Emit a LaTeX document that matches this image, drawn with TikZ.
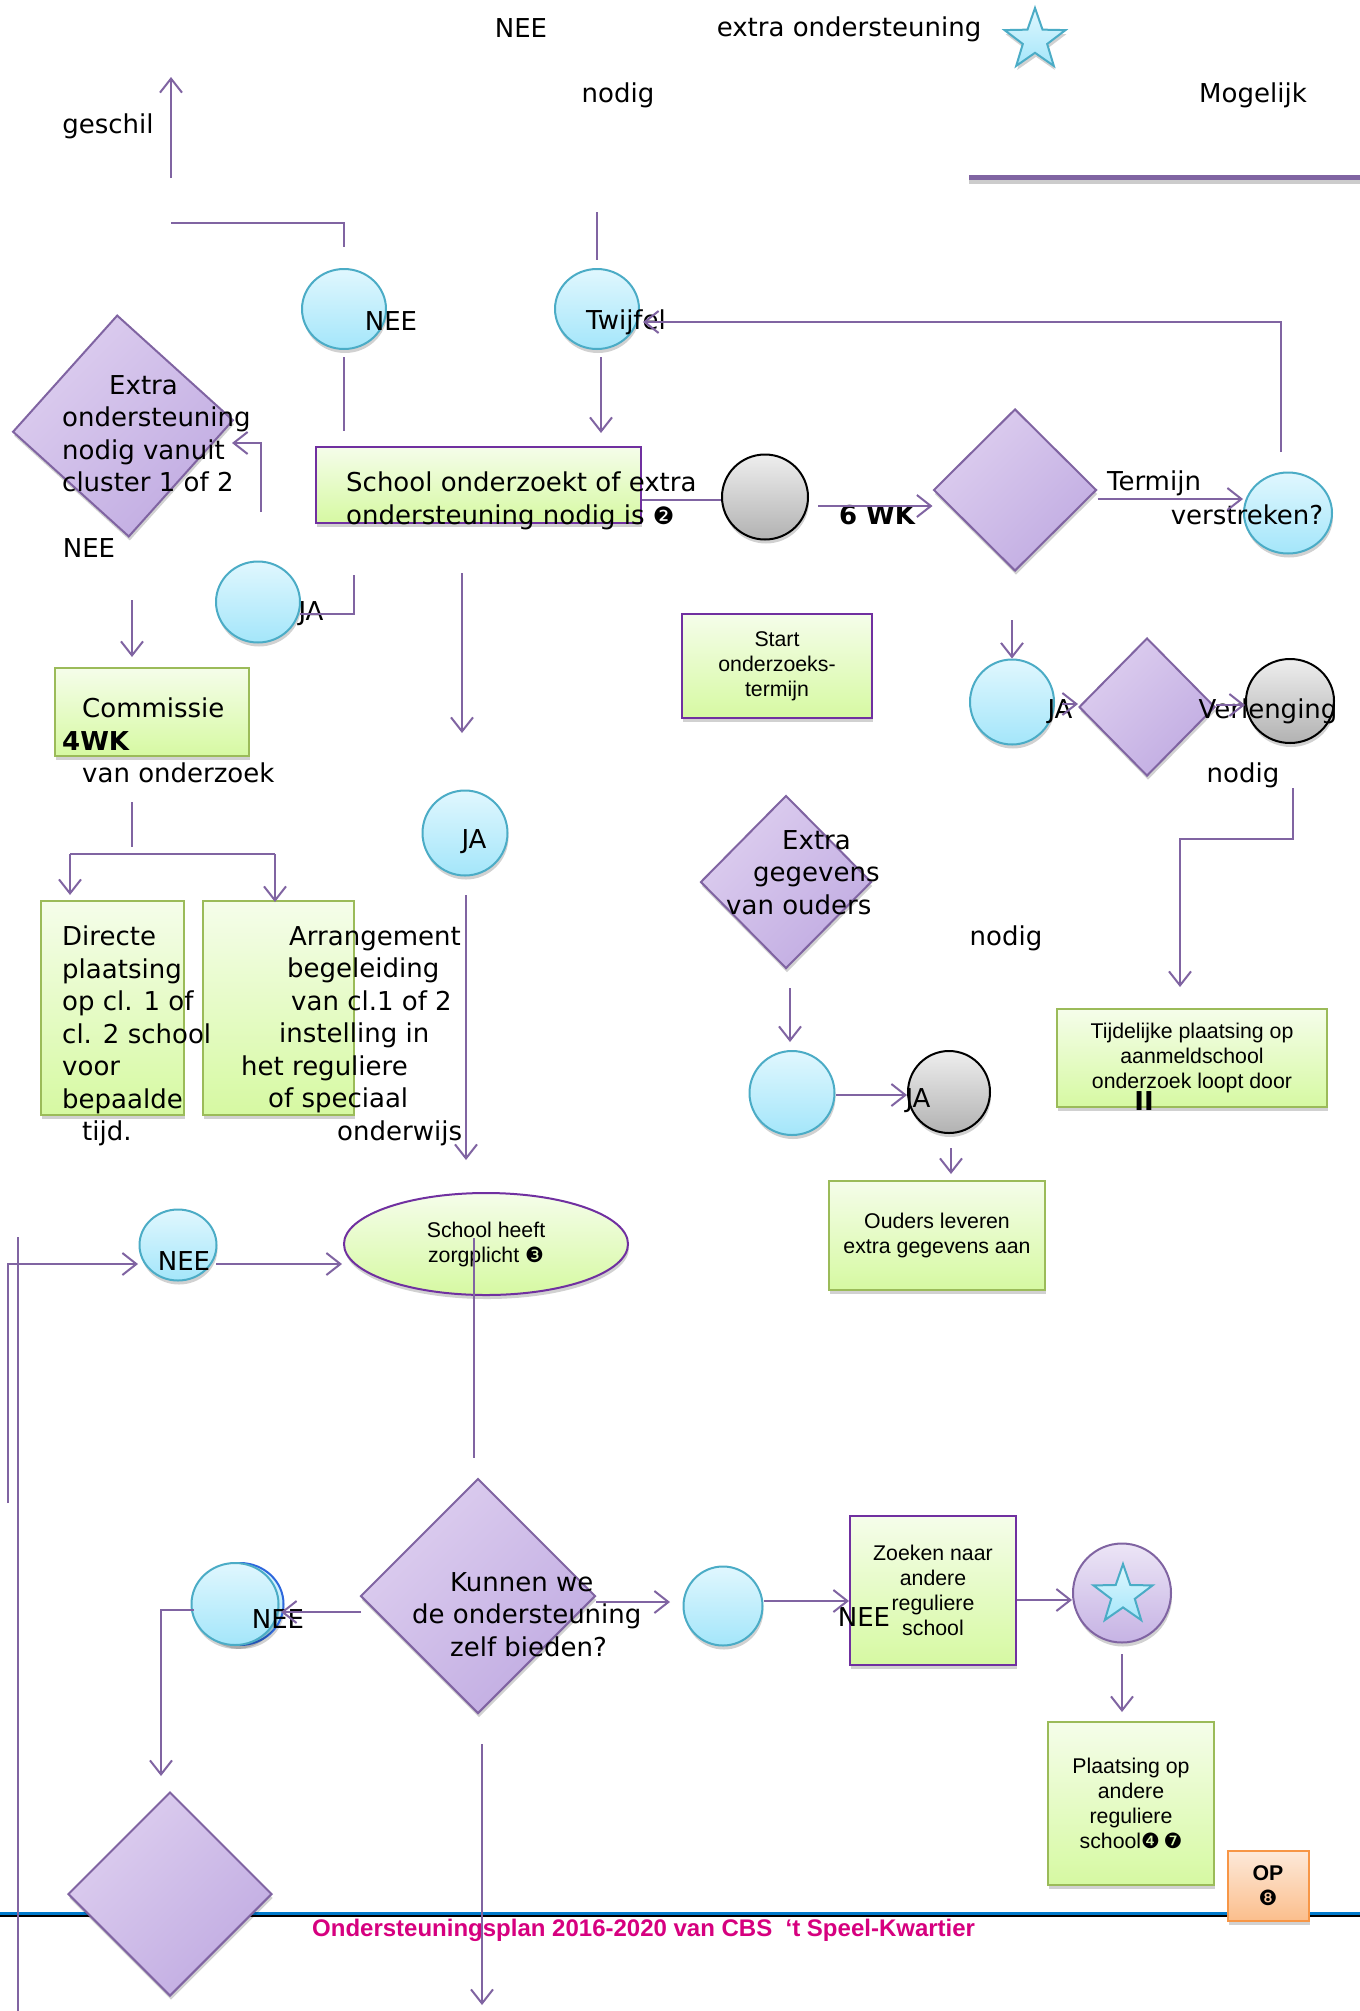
\documentclass[tikz,border=0pt]{standalone}
\usepackage{fontspec}
\setmainfont{DejaVu Sans}
\newfontfamily\arial{Liberation Sans}
\newfontfamily\dejavu{DejaVu Sans}
\usetikzlibrary{shapes.geometric,arrows.meta,shadows}

\definecolor{paars}{RGB}{128,100,162}
\definecolor{paarsrand}{RGB}{112,48,160}
\definecolor{bolrand}{RGB}{75,172,198}
\definecolor{boltop}{RGB}{224,247,254}
\definecolor{bolbodem}{RGB}{164,230,250}
\definecolor{grijstop}{RGB}{238,238,238}
\definecolor{grijsbodem}{RGB}{178,178,178}
\definecolor{ruitlicht}{RGB}{221,206,239}
\definecolor{ruitdonker}{RGB}{193,172,226}
\definecolor{stertop}{RGB}{236,229,246}
\definecolor{sterbodem}{RGB}{198,179,228}
\definecolor{groentop}{RGB}{245,253,234}
\definecolor{groenbodem}{RGB}{214,249,162}
\definecolor{groenrand}{RGB}{155,187,89}
\definecolor{oranjetop}{RGB}{253,233,217}
\definecolor{oranjebodem}{RGB}{251,190,140}
\definecolor{oranjerand}{RGB}{247,150,70}
\definecolor{voetblauw}{RGB}{0,122,204}
\definecolor{voettekst}{RGB}{214,0,127}

\newcommand{\nummer}[2][21]{{\dejavu\fontsize{#1}{#1}\selectfont #2}}

\tikzset{
  lijn/.style={draw=paars, line width=2pt},
  pijl/.style={lijn, -{Straight Barb[length=14pt,width=22pt]}},
  schaduw/.style={drop shadow={shadow xshift=1pt, shadow yshift=-4pt, opacity=0.18, fill=black}},
  maat/.style 2 args={minimum width=#1pt, minimum height=#2pt},
  bol/.style={ellipse, draw=bolrand, line width=2pt, top color=boltop, bottom color=bolbodem, inner sep=0pt, schaduw},
  grijsbol/.style={ellipse, draw=black, line width=2pt, top color=grijstop, bottom color=grijsbodem, inner sep=0pt, schaduw},
  ruit/.style={diamond, draw=paars, line width=2pt, top color=ruitlicht, bottom color=ruitdonker, shading angle=45, inner sep=0pt, schaduw},
  kader/.style={rectangle, draw=groenrand, line width=2pt, top color=groentop, bottom color=groenbodem, inner sep=0pt, schaduw, font=\arial\fontsize{21.3}{25}\selectfont, align=center},
  paarskader/.style={kader, draw=paarsrand},
  tekst/.style={inner sep=0pt, font=\fontsize{26}{32.5}\selectfont},
  blok/.style={tekst, anchor=north west, align=left},
}

\begin{document}
\begin{tikzpicture}[x=1pt,y=-1pt]
\useasboundingbox (0,0) rectangle (1360,2011);
\fill[white] (0,0) rectangle (1360,2011);

% voetregel
\draw[black, line width=2pt] (0,1916) -- (1360,1916);
\draw[voetblauw, line width=3pt] (0,1913) -- (1360,1913);
\node[anchor=base west, inner sep=0pt, text=voettekst, font=\arial\bfseries\fontsize{24}{28}\selectfont] (voet) at (312,1936) {Ondersteuningsplan 2016-2020 van CBS\ \ ‘t Speel-Kwartier};

% balk rechtsboven
\draw[black!20, line width=5pt] (969,181) -- (1360,181);
\draw[paars, line width=5pt] (969,177) -- (1360,177);

% vormen
\node[star, star points=5, star point ratio=2.5, minimum size=64pt, inner sep=0pt, draw=bolrand, line width=2pt, top color=boltop, bottom color=bolbodem, schaduw] (sterTop) at (1035,40) {};
\node[bol, maat={84}{80}] (neeBol) at (344,309) {};
\node[bol, maat={84}{80}] (twijfelBol) at (597,309) {};
\node[ruit, maat={221}{222}, rotate=3] (ruitCluster) at (123,426) {};
\node[paarskader, maat={325}{76}] (school) at (478.5,485) {};
\node[bol, maat={84}{81}] (jaBolLinks) at (258,602) {};
\node[grijsbol, maat={86}{85}] (grijsStart) at (765,497) {};
\node[ruit, maat={163}{162}] (ruitTermijn) at (1015,490) {};
\node[bol, maat={88}{81}] (verstreken) at (1288,513) {};
\node[paarskader, maat={190}{104}] (start) at (777,666) {Start\\onderzoeks-\\termijn};
\node[bol, maat={84}{85}] (jaBolRechts) at (1012,702) {};
\node[ruit, maat={136}{138}] (ruitVerlenging) at (1147,707) {};
\node[grijsbol, maat={88}{84}] (grijsVerlenging) at (1290,701) {};
\node[kader, maat={194}{88}] (commissie) at (152,712) {};
\node[bol, maat={85}{85}] (jaBolMidden) at (465,833) {};
\node[ruit, maat={171}{173}] (ruitOuders) at (786,882) {};
\node[kader, maat={143}{214}] (directe) at (112.5,1008) {};
\node[kader, maat={151}{214}] (arrangement) at (278.5,1008) {};
\node[kader, maat={270}{98}] (tijdelijk) at (1192,1058) {Tijdelijke plaatsing op\\aanmeldschool\\onderzoek loopt door};
\node[bol, maat={85}{84}] (ouderBol) at (792,1093) {};
\node[grijsbol, maat={82}{82}] (grijsOuders) at (949,1092) {};
\node[kader, maat={216}{109}] (ouders) at (937,1235) {Ouders leveren\\extra gegevens aan};
\node[bol, maat={77}{71}] (neeBolOnder) at (178,1245) {};
\node[paarskader, ellipse, maat={284}{102}] (zorgplicht) at (486,1244) {School heeft\\zorgplicht \nummer{❸}};
\node[ruit, maat={235}{235}] (ruitKunnen) at (478,1596) {};
\node[bol, draw=bolrand!60!blue, maat={87}{82}] (neeSchaduw) at (240,1604) {};
\node[bol, maat={87}{82}] (neeBolKunnen) at (235,1604) {};
\node[ruit, maat={204}{204}] (ruitOnder) at (170,1894) {};
\node[bol, maat={79}{79}] (zoekBol) at (723,1606) {};
\node[paarskader, maat={166}{149}] (zoeken) at (933,1590.5) {Zoeken naar\\andere\\reguliere\\school};
\node[ellipse, draw=paars, line width=2pt, top color=stertop, bottom color=sterbodem, inner sep=0pt, schaduw, maat={98}{99}] (sterBol) at (1122,1593) {};
\node[star, star points=5, star point ratio=2.5, minimum size=62pt, inner sep=0pt, draw=bolrand, line width=2pt, top color=boltop, bottom color=bolbodem] (ster) at (1123,1595) {};
\node[kader, maat={166}{163}] (plaatsing) at (1131,1803) {Plaatsing op\\andere\\reguliere\\school\nummer{❹\,❼}};
\node[kader, draw=oranjerand, top color=oranjetop, bottom color=oranjebodem, maat={81}{70}] (op) at (1268,1886) {\textbf{OP}\\\nummer{❽}};

% losse teksten
\node[tekst, anchor=base] (neeTop) at (521,37) {NEE};
\node[tekst, anchor=base] (extraTop) at (849,36) {extra ondersteuning};
\node[tekst, anchor=base] (nodigTop) at (618,102) {nodig};
\node[tekst, anchor=base] (mogelijk) at (1253,102) {Mogelijk};
\node[tekst, anchor=base] (geschil) at (108,133) {geschil};
\node[tekst, anchor=base] (neeBolTekst) at (391,330) {NEE};
\node[tekst, anchor=base] (twijfel) at (626,329) {Twijfel};
\node[blok] (clusterTekst) at (62,375) {\hspace*{47pt}Extra\\ondersteuning\\nodig vanuit\\cluster 1 of 2};
\node[tekst, anchor=base] (neeCluster) at (89,557) {NEE};
\node[blok] (schoolTekst) at (346,472) {School onderzoekt of extra\\ondersteuning nodig is \nummer[24]{❷}};
\node[tekst, anchor=base] (jaLinks) at (311,620) {JA};
\node[tekst, anchor=base, font=\bfseries\fontsize{26}{32.5}\selectfont] (zesWk) at (877,524) {6 WK};
\node[tekst, anchor=base] (termijn) at (1154,490) {Termijn};
\node[tekst, anchor=base] (verstrekenTekst) at (1247,524) {verstreken?};
\node[tekst, anchor=base] (jaRechts) at (1060,718) {JA};
\node[tekst, anchor=base] (verlenging) at (1268,718) {Verlenging};
\node[tekst, anchor=base] (nodigRechts) at (1243,782) {nodig};
\node[blok] (commissieTekst) at (62,698) {\hspace*{20pt}Commissie\\\textbf{4WK}\\\hspace*{20pt}van onderzoek};
\node[tekst, anchor=base] (jaMidden) at (474,848) {JA};
\node[blok] (oudersTekst) at (726,830) {\hspace*{56pt}Extra\\\hspace*{27pt}gegevens\\van ouders};
\node[tekst, anchor=base] (nodigMidden) at (1006,945) {nodig};
\node[blok] (directeTekst) at (62,926) {Directe\\plaatsing\\op cl. 1 of\\cl. 2 school\\voor\\bepaalde\\\hspace*{20pt}tijd.};
\node[blok] (arrangementTekst) at (241,926) {\hspace*{48pt}Arrangement\\\hspace*{46pt}begeleiding\\\hspace*{50pt}van cl.1 of 2\\\hspace*{38pt}instelling in\\het reguliere\\\hspace*{27pt}of speciaal\\\hspace*{96pt}onderwijs};
\node[tekst, anchor=base] (jaOuders) at (918,1107) {JA};
\node[tekst, anchor=base, font=\bfseries\fontsize{26}{32.5}\selectfont] (streepjes) at (1144,1110) {II};
\node[tekst, anchor=base] (neeOnder) at (184,1270) {NEE};
\node[blok] (kunnenTekst) at (412,1572) {\hspace*{38pt}Kunnen we\\de ondersteuning\\\hspace*{38pt}zelf bieden?};
\node[tekst, anchor=base] (neeKunnen) at (278,1628) {NEE};
\node[tekst, anchor=base] (neeZoeken) at (864,1626) {NEE};

% verbindingen
\coordinate (g1) at (171,178); \coordinate (g2) at (171,77);
\draw[pijl] (g1) -- (g2);
\coordinate (h1) at (171,223); \coordinate (h2) at (344,247);
\draw[lijn] (h1) -| (h2);
\coordinate (n1) at (597,212); \coordinate (n2) at (597,260);
\draw[lijn] (n1) -- (n2);
\coordinate (n3) at (344,357); \coordinate (n4) at (344,431);
\draw[lijn] (n3) -- (n4);
\coordinate (t1) at (601,357); \coordinate (t2) at (601,433);
\draw[pijl] (t1) -- (t2);
\coordinate (t3) at (1281,452); \coordinate (t4) at (643,322);
\draw[pijl] (t3) |- (t4);
\coordinate (c1) at (261,512); \coordinate (c2) at (232,443);
\draw[pijl] (c1) |- (c2);
\coordinate (j1) at (354,575); \coordinate (j2) at (300,614);
\draw[lijn] (j1) |- (j2);
\coordinate (c3) at (132,600); \coordinate (c4) at (132,657);
\draw[pijl] (c3) -- (c4);
\coordinate (s1) at (462,573); \coordinate (s2) at (462,733);
\draw[pijl] (s1) -- (s2);
\draw[lijn] (school.east |- 0,500) -- (grijsStart.west |- 0,500);
\coordinate (w1) at (818,506);
\draw[pijl] (w1) -- (ruitTermijn.west |- w1);
\draw[pijl] (ruitTermijn.east |- 0,499) -- (verstreken.west |- 0,499);
\coordinate (d1) at (1012,620);
\draw[pijl] (d1) -- (jaBolRechts.north);
\coordinate (v1) at (1062,704);
\draw[pijl] (v1) -- (ruitVerlenging.west |- v1);
\draw[pijl] (ruitVerlenging.east |- 0,705) -- (grijsVerlenging.west |- 0,705);
\coordinate (r1) at (1293,788); \coordinate (r2) at (1180,987);
\draw[pijl] (r1) |- (1236,839) -| (r2);
\coordinate (o1) at (790,988); \coordinate (o2) at (790,1042);
\draw[pijl] (o1) -- (o2);
\draw[pijl] (ouderBol.east |- 0,1095) -- (grijsOuders.west |- 0,1095);
\coordinate (o3) at (951,1148); \coordinate (o4) at (951,1174);
\draw[pijl] (o3) -- (o4);
\coordinate (k1) at (132,802); \coordinate (k2) at (132,847);
\draw[lijn] (k1) -- (k2);
\coordinate (k3) at (70,854); \coordinate (k4) at (275,854);
\draw[lijn] (k3) -- (k4);
\coordinate (k5) at (70,895); \coordinate (k6) at (275,902);
\draw[pijl] (k3) -- (k5);
\draw[pijl] (k4) -- (k6);
\coordinate (m1) at (466,895); \coordinate (m2) at (466,1160);
\draw[pijl] (m1) -- (m2);
\coordinate (l1) at (8,1503); \coordinate (l2) at (138,1264);
\draw[pijl] (l1) |- (l2);
\coordinate (l3) at (18,1237); \coordinate (l4) at (18,2011);
\draw[lijn] (l3) -- (l4);
\coordinate (z1) at (216,1264); \coordinate (z2) at (342,1264);
\draw[pijl] (z1) -- (z2);
\coordinate (z3) at (474,1238); \coordinate (z4) at (474,1458);
\draw[lijn] (z3) -- (z4);
\coordinate (q0) at (361,1612); \coordinate (q1) at (281,1612);
\draw[pijl] (q0) -- (q1);
\coordinate (q2) at (194,1610); \coordinate (q3) at (161,1776);
\draw[pijl] (q2) -| (q3);
\coordinate (b1) at (482,1744); \coordinate (b2) at (482,2005);
\draw[pijl] (b1) -- (b2);
\coordinate (b3) at (596,1602); \coordinate (b4) at (670,1602);
\draw[pijl] (b3) -- (b4);
\draw[pijl] (zoekBol.east |- 0,1601) -- (zoeken.west |- 0,1601);
\draw[pijl] (zoeken.east |- 0,1600) -- (sterBol.west |- 0,1600);
\coordinate (p1) at (1122,1654); \coordinate (p2) at (1122,1712);
\draw[pijl] (p1) -- (p2);
\end{tikzpicture}
\end{document}
